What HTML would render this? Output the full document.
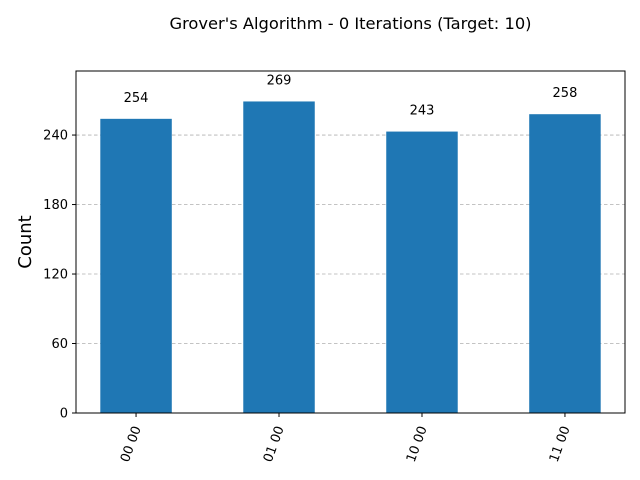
<!DOCTYPE html>
<html><head><meta charset="utf-8"><style>
html,body{margin:0;padding:0;background:#fff;}
svg{display:block;font-family:"DejaVu Sans","Liberation Sans",sans-serif;}
</style></head><body>
<svg id="chart" width="640" height="480" xmlns="http://www.w3.org/2000/svg">
<text x="350.5" y="29" text-anchor="middle" font-size="16.3" fill="#000">Grover's Algorithm - 0 Iterations (Target: 10)</text>
<text transform="translate(31,242) rotate(-90)" text-anchor="middle" font-size="18" fill="#000">Count</text>
<g id="grid"></g><g id="bars"></g><g id="ticks"></g>
<rect x="76" y="71" width="549" height="342" fill="none" stroke="#000" stroke-width="1"/>
</svg>
<script>
const categories = ["00 00", "01 00", "10 00", "11 00"];
const counts = [254, 269, 243, 258];
const yTicks = [0, 60, 120, 180, 240];
const L=76,R=625,T=71,B=413,ymax=295.3,xmin=-0.42,xmax=3.42;
const ns="http://www.w3.org/2000/svg";
function y(v){return B-(v/ymax)*(B-T);}
function x(i){return L+(i-xmin)/(xmax-xmin)*(R-L);}
function mk(tag,attrs,parent,text){const e=document.createElementNS(ns,tag);for(const k in attrs)e.setAttribute(k,attrs[k]);if(text!==undefined)e.textContent=text;parent.appendChild(e);return e;}
const grid=document.getElementById('grid'),bars=document.getElementById('bars'),ticks=document.getElementById('ticks');
const bw=(0.5/(xmax-xmin))*(R-L);
yTicks.forEach(v=>{
  if(v>0){const g=mk('line',{x1:L,x2:R,y1:y(v),y2:y(v),stroke:'#b0b0b0','stroke-dasharray':'3.5,2.5','stroke-width':0.8},grid);
  
  }
  const tk=mk('line',{x1:L-4,x2:L,y1:y(v),y2:y(v),stroke:'#000'},ticks);
  
  
  const t=mk('text',{x:L-8,y:y(v)+4.5,'text-anchor':'end','font-size':13},ticks,String(v));
  
  
});
categories.forEach((c,i)=>{
  const cx=x(i);
  const r=mk('rect',{x:cx-bw/2,y:y(counts[i]),width:bw,height:B-y(counts[i]),fill:'#1f77b4'},bars);
  
  
  const vl=mk('text',{x:cx,y:y(counts[i])-17,'text-anchor':'middle','font-size':13},bars,String(counts[i]));
  
  
  const tk=mk('line',{x1:cx,x2:cx,y1:B,y2:B+4,stroke:'#000'},ticks);
  
  
  const xl=mk('text',{transform:`translate(${cx+5},${B+15}) rotate(-70)`,'text-anchor':'end','font-size':13},ticks,c);
  
  
});
</script>
</body></html>
